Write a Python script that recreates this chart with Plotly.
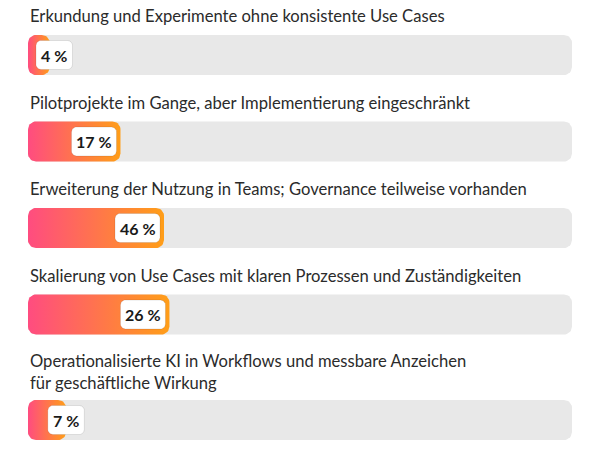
import numpy as np
import plotly.graph_objects as go

# survey answers (top to bottom)
stages = [
    "Erkundung und Experimente ohne konsistente Use Cases",
    "Pilotprojekte im Gange, aber Implementierung eingeschränkt",
    "Erweiterung der Nutzung in Teams; Governance teilweise vorhanden",
    "Skalierung von Use Cases mit klaren Prozessen und Zuständigkeiten",
    "Operationalisierte KI in Workflows und messbare Anzeichen<br>für geschäftliche Wirkung",
]
share_labels = [4, 17, 46, 26, 7]
# drawn bar lengths as they appear in the picture (percent of the track)
bar_lengths = [4, 17, 25, 26, 7]

W, H = 600, 450
ML, MR = 28, 28
PX = (W - ML - MR) / 100.0  # pixels per x unit
BAR_H = 40
RADIUS = 8
FONT = "Lato"
TRACK = "#e8e8e8"
GRAD = [[0, "#ff4c80"], [1, "#ff9e18"]]


def rounded_rect(x0, x1, yc, h, r):
    # x in data units, y in pixel units (y axis reversed)
    p0, p1 = x0 * PX, x1 * PX
    r = min(r, (p1 - p0) / 2, h / 2)
    top, bot = yc - h / 2, yc + h / 2
    xs, ys = [], []
    corners = [
        (p1 - r, top + r, -90, 0),
        (p1 - r, bot - r, 0, 90),
        (p0 + r, bot - r, 90, 180),
        (p0 + r, top + r, 180, 270),
    ]
    for cx, cy, a0, a1 in corners:
        t = np.radians(np.linspace(a0, a1, 10))
        xs.extend((cx + r * np.cos(t)) / PX)
        ys.extend(cy + r * np.sin(t))
    xs.append(xs[0])
    ys.append(ys[0])
    return xs, ys


fig = go.Figure()
annotations = []

y = 16
for label, val, length in zip(stages, share_labels, bar_lengths):
    nlines = label.count("<br>") + 1
    annotations.append(dict(
        x=0, y=y + (nlines - 1) * 9.5, xref="x", yref="y",
        text=label, showarrow=False, xanchor="left", yanchor="middle",
        align="left", font=dict(family=FONT, size=16.6, color="#2b2b2b"),
    ))
    yc = y + (nlines - 1) * 19 + 39

    # grey track
    tx, ty = rounded_rect(0, 100, yc, BAR_H, RADIUS)
    fig.add_trace(go.Scatter(x=tx, y=ty, mode="lines", fill="toself",
                             fillcolor=TRACK, line=dict(width=0),
                             hoverinfo="skip", showlegend=False))

    # gradient bar
    bx, by = rounded_rect(0, length, yc, BAR_H, RADIUS)
    fig.add_trace(go.Scatter(x=bx, y=by, mode="lines", fill="toself",
                             fillgradient=dict(type="horizontal", colorscale=GRAD),
                             line=dict(width=0), hoverinfo="skip", showlegend=False))

    # value badge
    text = "{} %".format(val)
    bw = 8.5 * len(text) + 11
    end_px = length * PX
    if end_px >= bw + 11:
        right = end_px - 4
        left = right - bw
    else:
        left = max(8, end_px - bw / 2)
        right = left + bw
    kx, ky = rounded_rect(left / PX, right / PX, yc, 29, 5)
    fig.add_trace(go.Scatter(x=kx, y=ky, mode="lines", fill="toself",
                             fillcolor="white", line=dict(width=1, color="rgba(0,0,0,0.10)"),
                             hoverinfo="skip", showlegend=False))
    annotations.append(dict(
        x=(left + right) / 2 / PX, y=yc, xref="x", yref="y",
        text="<b>{}</b>".format(text), showarrow=False,
        font=dict(family=FONT, size=16, color="#1a1a1a"),
    ))

    y = yc + 47.5

fig.update_layout(
    width=W, height=H,
    margin=dict(l=ML, r=MR, t=0, b=0),
    paper_bgcolor="white", plot_bgcolor="white",
    xaxis=dict(range=[0, 100], visible=False, fixedrange=True),
    yaxis=dict(range=[H, 0], visible=False, fixedrange=True),
    annotations=annotations,
    showlegend=False,
)

# drop the default 8px page margin so the figure fills the window
fig.write_html("out.html", config={"displayModeBar": False},
               post_script="document.body.style.margin='0';")
